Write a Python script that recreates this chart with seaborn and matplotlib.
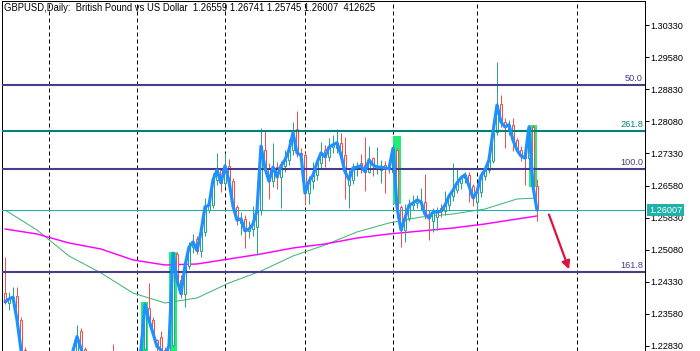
import pandas as pd
import matplotlib.pyplot as plt
import seaborn as sns
import numpy as np

## daily bars, GBPUSD
opens = [1.2407, 1.2384, 1.2388, 1.2400, 1.2344, 1.2274, 1.2230, 1.2215, 1.2200, 1.2188,
         1.2195, 1.2180, 1.2172, 1.2185, 1.2198, 1.2210, 1.2225, 1.2245, 1.2272, 1.2318,
         1.2276, 1.2250, 1.2232, 1.2218, 1.2224, 1.2212, 1.2230, 1.2262, 1.2240, 1.2226,
         1.2210, 1.2198, 1.2205, 1.2222, 1.2240, 1.2275, 1.2371, 1.2343, 1.2298, 1.2305,
         1.2274, 1.2255, 1.2285, 1.2498, 1.2437, 1.2405, 1.2470, 1.2514, 1.2534, 1.2506,
         1.2549, 1.2600, 1.2612, 1.2671, 1.2694, 1.2664, 1.2704, 1.2668, 1.2607, 1.2570,
         1.2580, 1.2552, 1.2556, 1.2560, 1.2600, 1.2740, 1.2699, 1.2668, 1.2701, 1.2678,
         1.2704, 1.2718, 1.2741, 1.2790, 1.2734, 1.2729, 1.2640, 1.2668, 1.2682, 1.2711,
         1.2740, 1.2725, 1.2748, 1.2745, 1.2758, 1.2729, 1.2660, 1.2672, 1.2699, 1.2710,
         1.2706, 1.2690, 1.2722, 1.2700, 1.2695, 1.2705, 1.2703, 1.2690, 1.2741, 1.2608,
         1.2554, 1.2582, 1.2612, 1.2617, 1.2614, 1.2620, 1.2591, 1.2575, 1.2585, 1.2605,
         1.2598, 1.2612, 1.2633, 1.2647, 1.2664, 1.2676, 1.2683, 1.2657, 1.2620, 1.2643,
         1.2680, 1.2694, 1.2716, 1.2783, 1.2849, 1.2806, 1.2790, 1.2800, 1.2764, 1.2741,
         1.2727, 1.2722, 1.2795, 1.26559]
highs = [1.2491, 1.2409, 1.2421, 1.2421, 1.2350, 1.2281, 1.2238, 1.2222, 1.2210, 1.2205,
         1.2202, 1.2190, 1.2192, 1.2205, 1.2215, 1.2232, 1.2250, 1.2280, 1.2333, 1.2325,
         1.2280, 1.2258, 1.2240, 1.2236, 1.2230, 1.2238, 1.2255, 1.2288, 1.2248, 1.2232,
         1.2218, 1.2215, 1.2230, 1.2250, 1.2282, 1.2386, 1.2430, 1.2350, 1.2300, 1.2318,
         1.2280, 1.2290, 1.2503, 1.2503, 1.2450, 1.2478, 1.2527, 1.2545, 1.2540, 1.2569,
         1.2628, 1.2629, 1.2687, 1.2734, 1.2700, 1.2735, 1.2721, 1.2675, 1.2612, 1.2596,
         1.2590, 1.2575, 1.2610, 1.2632, 1.2792, 1.2786, 1.2710, 1.2758, 1.2712, 1.2716,
         1.2740, 1.2766, 1.2806, 1.2832, 1.2745, 1.2736, 1.2680, 1.2712, 1.2722, 1.2760,
         1.2752, 1.2770, 1.2775, 1.2791, 1.2780, 1.2771, 1.2694, 1.2710, 1.2712, 1.2732,
         1.2771, 1.2750, 1.2725, 1.2748, 1.2718, 1.2715, 1.2720, 1.2755, 1.2745, 1.2612,
         1.2615, 1.2627, 1.2636, 1.2636, 1.2652, 1.2686, 1.2600, 1.2605, 1.2607, 1.2614,
         1.2644, 1.2640, 1.2711, 1.2699, 1.2683, 1.2690, 1.2690, 1.2662, 1.2655, 1.2690,
         1.2706, 1.2729, 1.2795, 1.2947, 1.2870, 1.2815, 1.2810, 1.2815, 1.2770, 1.2750,
         1.2735, 1.2800, 1.2799, 1.26741]
lows = [1.2382, 1.2367, 1.2379, 1.2338, 1.2268, 1.2222, 1.2205, 1.2190, 1.2178, 1.2180,
        1.2170, 1.2160, 1.2165, 1.2178, 1.2190, 1.2202, 1.2218, 1.2238, 1.2266, 1.2268,
        1.2240, 1.2222, 1.2205, 1.2210, 1.2200, 1.2205, 1.2222, 1.2232, 1.2215, 1.2198,
        1.2188, 1.2190, 1.2200, 1.2215, 1.2232, 1.2268, 1.2336, 1.2305, 1.2268, 1.2262,
        1.2240, 1.2245, 1.2280, 1.2425, 1.2395, 1.2374, 1.2462, 1.2500, 1.2497, 1.2490,
        1.2540, 1.2594, 1.2605, 1.2660, 1.2642, 1.2655, 1.2655, 1.2600, 1.2566, 1.2542,
        1.2512, 1.2536, 1.2540, 1.2496, 1.2590, 1.2690, 1.2627, 1.2655, 1.2650, 1.2606,
        1.2690, 1.2705, 1.2730, 1.2725, 1.2712, 1.2612, 1.2614, 1.2650, 1.2670, 1.2698,
        1.2702, 1.2716, 1.2733, 1.2735, 1.2720, 1.2627, 1.2605, 1.2662, 1.2680, 1.2688,
        1.2646, 1.2687, 1.2680, 1.2685, 1.2664, 1.2641, 1.2687, 1.2687, 1.2583, 1.2514,
        1.2525, 1.2575, 1.2600, 1.2605, 1.2600, 1.2580, 1.2530, 1.2550, 1.2555, 1.2585,
        1.2590, 1.2600, 1.2622, 1.2640, 1.2650, 1.2665, 1.2620, 1.2610, 1.2594, 1.2632,
        1.2672, 1.2688, 1.2710, 1.2775, 1.2795, 1.2746, 1.2775, 1.2738, 1.2733, 1.2715,
        1.2659, 1.2695, 1.2636, 1.25745]
closes = [1.2386, 1.2393, 1.2397, 1.2344, 1.2274, 1.2230, 1.2215, 1.2200, 1.2188, 1.2195,
          1.2180, 1.2172, 1.2185, 1.2198, 1.2210, 1.2225, 1.2245, 1.2272, 1.2305, 1.2276,
          1.2250, 1.2232, 1.2218, 1.2224, 1.2212, 1.2230, 1.2245, 1.2240, 1.2226, 1.2210,
          1.2198, 1.2205, 1.2222, 1.2240, 1.2275, 1.2380, 1.2343, 1.2313, 1.2282, 1.2274,
          1.2255, 1.2285, 1.2500, 1.2437, 1.2405, 1.2470, 1.2514, 1.2526, 1.2506, 1.2549,
          1.2608, 1.2612, 1.2671, 1.2694, 1.2664, 1.2704, 1.2668, 1.2610, 1.2577, 1.2580,
          1.2552, 1.2556, 1.2568, 1.2600, 1.2750, 1.2699, 1.2668, 1.2701, 1.2678, 1.2704,
          1.2718, 1.2741, 1.2781, 1.2734, 1.2729, 1.2640, 1.2668, 1.2682, 1.2711, 1.2734,
          1.2725, 1.2748, 1.2753, 1.2758, 1.2729, 1.2690, 1.2672, 1.2699, 1.2701, 1.2704,
          1.2690, 1.2718, 1.2706, 1.2701, 1.2701, 1.2699, 1.2697, 1.2745, 1.2608, 1.2554,
          1.2582, 1.2612, 1.2617, 1.2624, 1.2620, 1.2591, 1.2582, 1.2596, 1.2596, 1.2598,
          1.2612, 1.2633, 1.2647, 1.2664, 1.2676, 1.2683, 1.2657, 1.2629, 1.2643, 1.2680,
          1.2694, 1.2718, 1.2783, 1.2846, 1.2806, 1.2795, 1.2800, 1.2764, 1.2741, 1.2727,
          1.2722, 1.2795, 1.26559, 1.26007]

## moving averages, read at a few bars
ma_bars = [0, 8, 16, 24, 32, 40, 48, 56, 64, 72, 80, 88, 96, 104, 112, 120, 128, 133]
ma_green = [1.26008, 1.25540, 1.24933, 1.24536, 1.24068, 1.23835, 1.23952, 1.24302, 1.24582,
            1.24933, 1.25190, 1.25494, 1.25704, 1.25844, 1.25914, 1.26031, 1.26265, 1.26288]
ma_magenta = [1.25564, 1.25447, 1.25237, 1.25096, 1.24840, 1.24723, 1.24746, 1.24863, 1.24980,
              1.25120, 1.25213, 1.25353, 1.25447, 1.25517, 1.25587, 1.25681, 1.25797, 1.25868]

## highlighted boxes (bar from, bar to, top, bottom)
box_left = [34.0, 41.0, 97.0, 131.0]
box_right = [35.75, 43.0, 99.0, 133.0]
box_top = [1.2386, 1.2503, 1.2773, 1.2799]
box_bottom = [1.2200, 1.2200, 1.2615, 1.2655]

## fibo levels
fib_labels = ["50.0", "261.8", "100.0", "161.8"]
fib_levels = [1.28935, 1.27860, 1.26973, 1.24552]
fib_colors = ["#483D8B", "#007F7F", "#483D8B", "#483D8B"]

last_price = 1.26007
month_bars = [11, 33, 55, 75, 97, 118, 143]
yticks = [1.22830, 1.23580, 1.24330, 1.25080, 1.25830, 1.26580, 1.27330, 1.28080, 1.28830, 1.29580, 1.30330]
arrow_from = (135.75, 1.25961)
arrow_to = (141.25, 1.24559)
title = "GBPUSD,Daily:  British Pound vs US Dollar  1.26559 1.26741 1.25745 1.26007  412625"

df = pd.DataFrame({"bar": np.arange(len(closes)), "open": opens, "high": highs,
                   "low": lows, "close": closes})
ma = pd.DataFrame({"bar": ma_bars, "green": ma_green, "magenta": ma_magenta})

sns.set_style("white")
plt.rcParams["font.family"] = ["Liberation Sans", "DejaVu Sans"]

fig = plt.figure(figsize=(7, 3.51), dpi=100)
ax = fig.add_axes([2 / 700, 0, 643 / 700, 350 / 351])
ax.set_xlim(-0.75, 160)
ax.set_ylim(1.22713, 1.30891)

px = 0.72  # one pixel in points
bull, bear = "#2AA58A", "#F05050"

# month separators
for b in month_bars:
    ax.axvline(b, color="black", lw=px, ls=(0, (4, 3)), zorder=0)

ax.bar(box_left, np.array(box_top) - np.array(box_bottom), width=np.array(box_right) - np.array(box_left),
       bottom=box_bottom, align="edge", color="#1DF075", lw=0, zorder=1)

sns.lineplot(data=ma, x="bar", y="green", color="#3CB371", lw=px, ax=ax, zorder=2)
sns.lineplot(data=ma, x="bar", y="magenta", color="#FF00FF", lw=1.05, ax=ax, zorder=2)

cols = np.where(df["close"] >= df["open"], bull, bear)
ax.vlines(df["bar"], df["low"], df["high"], colors=cols, lw=px, zorder=3)
ax.bar(df["bar"], (df["close"] - df["open"]).abs(), bottom=df[["open", "close"]].min(axis=1),
       width=0.65, facecolor="white", edgecolor=cols, lw=px, zorder=3)

ax.axhline(last_price, color="#20B2AA", lw=px, zorder=4)
for lab, lev, c in zip(fib_labels, fib_levels, fib_colors):
    ax.axhline(lev, color=c, lw=1.5, zorder=4)
    ax.annotate(lab, xy=(1, lev), xycoords=("axes fraction", "data"), xytext=(-1.5, 1.5),
                textcoords="offset points", ha="right", va="bottom", color=c, fontsize=6.6)

sns.lineplot(data=df, x="bar", y="close", color="#1E90FF", lw=2.3, ax=ax, zorder=5)

ax.annotate("", xy=arrow_to, xytext=arrow_from,
            arrowprops=dict(arrowstyle="-|>", color="#DC143C", lw=1.6, mutation_scale=12))

ax.text(0.003, 0.993, title, transform=ax.transAxes, ha="left", va="top", fontsize=6.85, color="black")

ax.yaxis.tick_right()
ax.set_yticks(yticks)
ax.set_yticklabels(["%.5f" % t for t in yticks])
ax.tick_params(axis="y", direction="out", length=3, width=px, pad=1, labelsize=6.6, colors="black", right=True)
ax.set_xticks([])
ax.set_xlabel("")
ax.set_ylabel("")
for s in ["left", "right", "top"]:
    ax.spines[s].set_color("black")
    ax.spines[s].set_linewidth(px)
ax.spines["bottom"].set_visible(False)

ax.text(1.006, last_price, "%.5f" % last_price, transform=ax.get_yaxis_transform(), ha="left", va="center",
        fontsize=6.6, color="white", zorder=6,
        bbox=dict(boxstyle="square,pad=0.2", facecolor="#20B2AA", edgecolor="none"), clip_on=False)

plt.savefig("out.png", dpi=100)
plt.close()
